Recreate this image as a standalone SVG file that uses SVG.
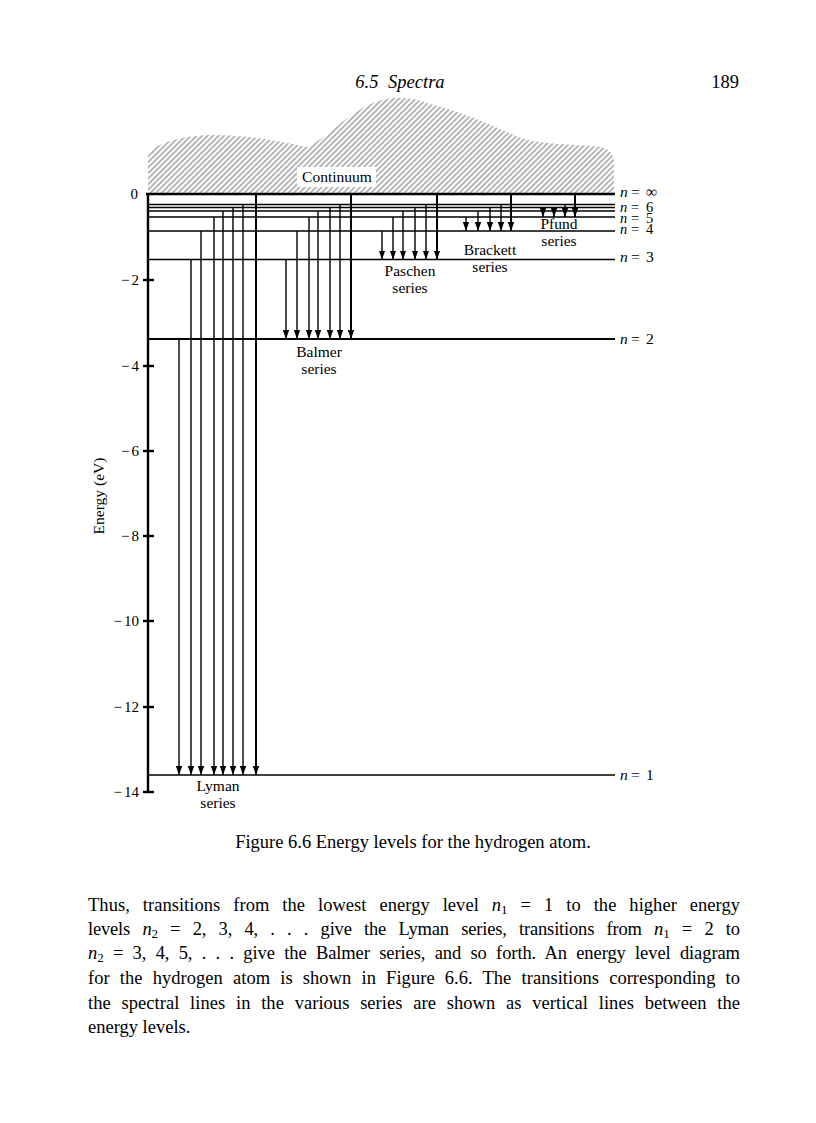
<svg xmlns="http://www.w3.org/2000/svg" width="816" height="1123" viewBox="0 0 816 1123">
<style>
.t{font-family:"Liberation Serif","Times New Roman",serif;fill:#000}
.lab{font-size:15.5px;text-anchor:middle}
.tick{font-size:15px;text-anchor:end}
.nl{font-size:15.5px}
.nls{font-size:14.5px}
.body{font-size:18.5px}
.lv{stroke:#000;stroke-width:1.4;fill:none}
.tr{stroke:#000;stroke-width:1.4;fill:none;marker-end:url(#ah)}
.tri{stroke:#000;stroke-width:2;fill:none;marker-end:url(#ah)}
.ax{stroke:#000;stroke-width:2.4;fill:none}
</style>
<defs>
<marker id="ah" markerUnits="userSpaceOnUse" viewBox="0 -4 9 8" refX="9" refY="0" markerWidth="9" markerHeight="8" orient="auto">
<path d="M0,-3.2 L9,0 L0,3.2 Z" fill="#000"/>
</marker>
<pattern id="hatch" patternUnits="userSpaceOnUse" width="3.9" height="10" patternTransform="rotate(45)">
<rect x="0" y="0" width="3.9" height="10" fill="#fff"/>
<line x1="1" y1="0" x2="1" y2="10" stroke="#999" stroke-width="1.4"/>
</pattern>
</defs>
<rect width="816" height="1123" fill="#fff"/>

<g id="header">
<text class="t" x="400" y="88" font-size="18.5" font-style="italic" text-anchor="middle">6.5<tspan dx="5"> Spectra</tspan></text>
<text class="t" x="739" y="88" font-size="18.5" text-anchor="end">189</text>
</g>

<g id="continuum">
<path d="M148,194 L148,153 C155,145 175,137 207,135 C240,134 275,140 307,147 C325,140 345,115 373,103 C390,96 410,96 430,104 C455,110 480,120 500,129 C515,136 525,140 540,142 C565,146 590,144 605,148 C610,150 613,155 614,160 L614,194 Z" fill="url(#hatch)"/>
<rect x="297" y="167" width="79" height="20" fill="#fff"/>
<text class="t lab" x="337" y="182">Continuum</text>
</g>

<g id="axis">
<line class="ax" x1="148" y1="193" x2="148" y2="793"/>
<line class="ax" x1="143" y1="280" x2="154" y2="280"/>
<line class="ax" x1="143" y1="366" x2="154" y2="366"/>
<line class="ax" x1="143" y1="451" x2="154" y2="451"/>
<line class="ax" x1="143" y1="536" x2="154" y2="536"/>
<line class="ax" x1="143" y1="621" x2="154" y2="621"/>
<line class="ax" x1="143" y1="707" x2="154" y2="707"/>
<line class="ax" x1="143" y1="792" x2="154" y2="792"/>
<text class="t tick" x="138" y="199">0</text>
<text class="t tick" x="139" y="285">−<tspan dx="2">2</tspan></text>
<text class="t tick" x="139" y="371">−<tspan dx="2">4</tspan></text>
<text class="t tick" x="139" y="456">−<tspan dx="2">6</tspan></text>
<text class="t tick" x="139" y="541">−<tspan dx="2">8</tspan></text>
<text class="t tick" x="139" y="626">−<tspan dx="2">10</tspan></text>
<text class="t tick" x="139" y="712">−<tspan dx="2">12</tspan></text>
<text class="t tick" x="139" y="797">−<tspan dx="2">14</tspan></text>
<text class="t" x="0" y="0" font-size="15.5" text-anchor="middle" transform="translate(104,496) rotate(-90)">Energy (eV)</text>
</g>

<g id="level-inf">
<line x1="146" y1="194" x2="615" y2="194" stroke="#000" stroke-width="2.4"/>
<text class="t nl" y="197"><tspan x="620" font-style="italic">n</tspan><tspan x="631">=</tspan><tspan x="646">∞</tspan></text>
</g>
<g id="level-8"><line class="lv" x1="148" y1="204.5" x2="615" y2="204.5"/></g>
<g id="level-7"><line class="lv" x1="148" y1="207.5" x2="615" y2="207.5"/></g>
<g id="level-6">
<line class="lv" x1="148" y1="211" x2="615" y2="211"/>
<text class="t nls" y="212"><tspan x="620" font-style="italic">n</tspan><tspan x="631">=</tspan><tspan x="646">6</tspan></text>
</g>
<g id="level-5">
<line class="lv" x1="148" y1="217" x2="615" y2="217"/>
<text class="t nls" y="222.5"><tspan x="620" font-style="italic">n</tspan><tspan x="631">=</tspan><tspan x="646">5</tspan></text>
</g>
<g id="level-4">
<line class="lv" x1="148" y1="231" x2="615" y2="231"/>
<text class="t nls" y="234"><tspan x="620" font-style="italic">n</tspan><tspan x="631">=</tspan><tspan x="646">4</tspan></text>
</g>
<g id="level-3">
<line class="lv" x1="148" y1="259.5" x2="615" y2="259.5"/>
<text class="t nl" y="262"><tspan x="620" font-style="italic">n</tspan><tspan x="631">=</tspan><tspan x="646">3</tspan></text>
</g>
<g id="level-2">
<line x1="148" y1="339" x2="615" y2="339" stroke="#000" stroke-width="2"/>
<text class="t nl" y="343.5"><tspan x="620" font-style="italic">n</tspan><tspan x="631">=</tspan><tspan x="646">2</tspan></text>
</g>
<g id="level-1">
<line class="lv" x1="148" y1="775" x2="615" y2="775"/>
<text class="t nl" y="779.5"><tspan x="620" font-style="italic">n</tspan><tspan x="631">=</tspan><tspan x="646">1</tspan></text>
</g>

<g id="connectors">
<line class="tr" x1="179" y1="339" x2="179" y2="775"/>
<line class="tr" x1="191" y1="259.5" x2="191" y2="775"/>
<line class="tr" x1="201" y1="231" x2="201" y2="775"/>
<line class="tr" x1="214" y1="217" x2="214" y2="775"/>
<line class="tr" x1="223" y1="211" x2="223" y2="775"/>
<line class="tr" x1="233" y1="207.5" x2="233" y2="775"/>
<line class="tr" x1="243" y1="204.5" x2="243" y2="775"/>
<line class="tri" x1="256" y1="194" x2="256" y2="775"/>
<line class="tr" x1="286" y1="259.5" x2="286" y2="339"/>
<line class="tr" x1="297" y1="231" x2="297" y2="339"/>
<line class="tr" x1="309" y1="217" x2="309" y2="339"/>
<line class="tr" x1="318" y1="211" x2="318" y2="339"/>
<line class="tr" x1="330" y1="207.5" x2="330" y2="339"/>
<line class="tr" x1="340" y1="204.5" x2="340" y2="339"/>
<line class="tri" x1="351" y1="194" x2="351" y2="339"/>
<line class="tr" x1="382" y1="231" x2="382" y2="259.5"/>
<line class="tr" x1="393" y1="217" x2="393" y2="259.5"/>
<line class="tr" x1="403" y1="211" x2="403" y2="259.5"/>
<line class="tr" x1="415" y1="207.5" x2="415" y2="259.5"/>
<line class="tr" x1="426" y1="204.5" x2="426" y2="259.5"/>
<line class="tri" x1="437" y1="194" x2="437" y2="259.5"/>
<line class="tr" x1="466" y1="217" x2="466" y2="231"/>
<line class="tr" x1="478" y1="211" x2="478" y2="231"/>
<line class="tr" x1="490" y1="207.5" x2="490" y2="231"/>
<line class="tr" x1="501" y1="204.5" x2="501" y2="231"/>
<line class="tri" x1="511" y1="194" x2="511" y2="231"/>
<line class="tr" x1="543" y1="211" x2="543" y2="217"/>
<line class="tr" x1="554" y1="207.5" x2="554" y2="217"/>
<line class="tr" x1="565" y1="204.5" x2="565" y2="217"/>
<line class="tri" x1="575" y1="194" x2="575" y2="217"/>
</g>

<g id="label-lyman">
<text class="t lab" x="218" y="791">Lyman</text>
<text class="t lab" x="218" y="808">series</text>
</g>
<g id="label-balmer">
<text class="t lab" x="319" y="357">Balmer</text>
<text class="t lab" x="319" y="374">series</text>
</g>
<g id="label-paschen">
<text class="t lab" x="410" y="276">Paschen</text>
<text class="t lab" x="410" y="293">series</text>
</g>
<g id="label-brackett">
<text class="t lab" x="490" y="255">Brackett</text>
<text class="t lab" x="490" y="272">series</text>
</g>
<g id="label-pfund">
<text class="t lab" x="559" y="229">Pfund</text>
<text class="t lab" x="559" y="246">series</text>
</g>

<g id="caption">
<text class="t" x="413" y="848" font-size="18.5" text-anchor="middle">Figure 6.6 Energy levels for the hydrogen atom.</text>
</g>

<g id="body">
<text class="t body" x="88" y="911" word-spacing="8.3" textLength="652" lengthAdjust="spacing">Thus, transitions from the lowest energy level <tspan font-style="italic">n</tspan><tspan font-size="13" dy="3">1</tspan><tspan dy="-3"> = 1 to the higher energy</tspan></text>
<text class="t body" x="88" y="935" word-spacing="7.9" textLength="652" lengthAdjust="spacing">levels <tspan font-style="italic">n</tspan><tspan font-size="13" dy="3">2</tspan><tspan dy="-3"> = 2, 3, 4, . . . give the Lyman series, transitions from </tspan><tspan font-style="italic">n</tspan><tspan font-size="13" dy="3">1</tspan><tspan dy="-3"> = 2 to</tspan></text>
<text class="t body" x="88" y="959" word-spacing="4.8" textLength="652" lengthAdjust="spacing"><tspan font-style="italic">n</tspan><tspan font-size="13" dy="3">2</tspan><tspan dy="-3"> = 3, 4, 5, . . . give the Balmer series, and so forth. An energy level diagram</tspan></text>
<text class="t body" x="88" y="984" word-spacing="5.5" textLength="652" lengthAdjust="spacing">for the hydrogen atom is shown in Figure 6.6. The transitions corresponding to</text>
<text class="t body" x="88" y="1009" word-spacing="6.1" textLength="652" lengthAdjust="spacing">the spectral lines in the various series are shown as vertical lines between the</text>
<text class="t body" x="88" y="1033">energy levels.</text>
</g>
</svg>
